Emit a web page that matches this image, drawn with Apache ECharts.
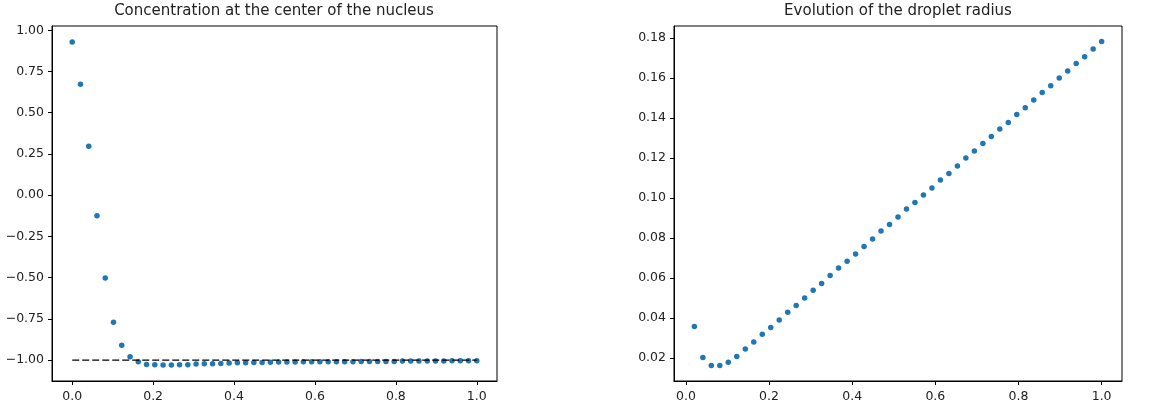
<!DOCTYPE html>
<html>
<head>
<meta charset="utf-8">
<script src="https://cdn.jsdelivr.net/npm/echarts@6/dist/echarts.min.js"></script>
<style>
html,body{margin:0;padding:0;background:#fff;}
#chart{width:1157px;height:410px;}
</style>
</head>
<body>
<div id="chart"></div>
<script>
// ---- data ----
const titleLeft = "Concentration at the center of the nucleus";
const titleRight = "Evolution of the droplet radius";

const timeValues = [0, 0.0204, 0.0408, 0.0612, 0.0816, 0.1020, 0.1224, 0.1429, 0.1633, 0.1837,
  0.2041, 0.2245, 0.2449, 0.2653, 0.2857, 0.3061, 0.3265, 0.3469, 0.3673, 0.3878,
  0.4082, 0.4286, 0.4490, 0.4694, 0.4898, 0.5102, 0.5306, 0.5510, 0.5714, 0.5918,
  0.6122, 0.6327, 0.6531, 0.6735, 0.6939, 0.7143, 0.7347, 0.7551, 0.7755, 0.7959,
  0.8163, 0.8367, 0.8571, 0.8776, 0.8980, 0.9184, 0.9388, 0.9592, 0.9796, 1.0];

const concentration = [0.929, 0.673, 0.296, -0.125, -0.502, -0.771, -0.910, -0.980, -1.010, -1.027,
  -1.029, -1.030, -1.030, -1.029, -1.028, -1.024, -1.023, -1.022, -1.021, -1.018,
  -1.017, -1.016, -1.015, -1.015, -1.014, -1.012, -1.012, -1.012, -1.011, -1.011,
  -1.011, -1.010, -1.010, -1.010, -1.010, -1.009, -1.009, -1.009, -1.009, -1.008,
  -1.006, -1.006, -1.005, -1.005, -1.005, -1.005, -1.004, -1.004, -1.004, -1.004];

const refLineX = [0, 1];
const refLineY = [-1, -1];

const radiusTime = timeValues.slice(1);
const radius = [0.0357, 0.0202, 0.0163, 0.0163, 0.0179, 0.0207, 0.0245, 0.0280, 0.0319, 0.0352,
  0.0390, 0.0429, 0.0462, 0.0500, 0.0539, 0.0572, 0.0612, 0.0650, 0.0684, 0.0720,
  0.0757, 0.0794, 0.0834, 0.0867, 0.0905, 0.0944, 0.0977, 0.1014, 0.1050, 0.1089,
  0.1122, 0.1160, 0.1199, 0.1234, 0.1272, 0.1307, 0.1344, 0.1377, 0.1417, 0.1450,
  0.1489, 0.1527, 0.1560, 0.1599, 0.1634, 0.1672, 0.1705, 0.1744, 0.1782];

const xTicks = [0, 0.2, 0.4, 0.6, 0.8, 1.0];
const yTicksLeft = [-1.0, -0.75, -0.5, -0.25, 0, 0.25, 0.5, 0.75, 1.0];
const yTicksRight = [0.02, 0.04, 0.06, 0.08, 0.10, 0.12, 0.14, 0.16, 0.18];

// ---- chart ----
const FONT = "DejaVu Sans";
const TXT = "#222";
function fmt(d) {
  return function (v) {
    const s = Math.abs(v).toFixed(d);
    return (v < -1e-9 ? "\u2212" : "") + s;
  };
}
function axisCommon(ticks, dec, margin) {
  return {
    type: "value",
    scale: true,
    splitLine: { show: false },
    axisLine: { show: true, onZero: false, lineStyle: { color: "#000", width: 1 } },
    axisTick: { show: true, inside: false, length: 4, customValues: ticks, lineStyle: { color: "#000", width: 1 } },
    axisLabel: { show: true, customValues: ticks, formatter: fmt(dec), color: TXT, fontFamily: FONT, fontSize: 12.5, margin: margin },
    minorTick: { show: false }
  };
}

const chart = echarts.init(document.getElementById("chart"), null, { renderer: "canvas" });
const grids = [
  { left: 52, top: 26, width: 445, height: 355, show: true, borderColor: "#000", borderWidth: 1, backgroundColor: "transparent" },
  { left: 674, top: 26, width: 448, height: 355, show: true, borderColor: "#000", borderWidth: 1, backgroundColor: "transparent" }
];

const option = {
  animation: false,
  backgroundColor: "#fff",
  title: [
    { text: titleLeft, left: 274, top: 4, textAlign: "center", padding: 0,
      textStyle: { fontFamily: FONT, fontSize: 15, fontWeight: "normal", color: TXT } },
    { text: titleRight, left: 898, top: 4, textAlign: "center", padding: 0,
      textStyle: { fontFamily: FONT, fontSize: 15, fontWeight: "normal", color: TXT } }
  ],
  grid: grids,
  xAxis: [
    Object.assign(axisCommon(xTicks, 1, 9), { gridIndex: 0, min: -0.05, max: 1.05 }),
    Object.assign(axisCommon(xTicks, 1, 9), { gridIndex: 1, min: -0.0286, max: 1.049 })
  ],
  yAxis: [
    Object.assign(axisCommon(yTicksLeft, 2, 8), { gridIndex: 0, min: -1.127, max: 1.026 }),
    Object.assign(axisCommon(yTicksRight, 2, 8), { gridIndex: 1, min: 0.0085, max: 0.1859 })
  ],
  series: [
    {
      type: "scatter", xAxisIndex: 0, yAxisIndex: 0, symbol: "circle", symbolSize: 5.5,
      itemStyle: { color: "#1f77b4", opacity: 1 }, z: 2,
      data: timeValues.map((t, i) => [t, concentration[i]])
    },
    {
      type: "line", xAxisIndex: 0, yAxisIndex: 0, symbol: "none", z: 3,
      lineStyle: { color: "#000", width: 1.3, type: [7, 3] },
      data: refLineX.map((t, i) => [t, refLineY[i]])
    },
    {
      type: "scatter", xAxisIndex: 1, yAxisIndex: 1, symbol: "circle", symbolSize: 5.5,
      itemStyle: { color: "#1f77b4", opacity: 1 },
      data: radiusTime.map((t, i) => [t, radius[i]])
    }
  ]
};
chart.setOption(option);
</script>
</body>
</html>
